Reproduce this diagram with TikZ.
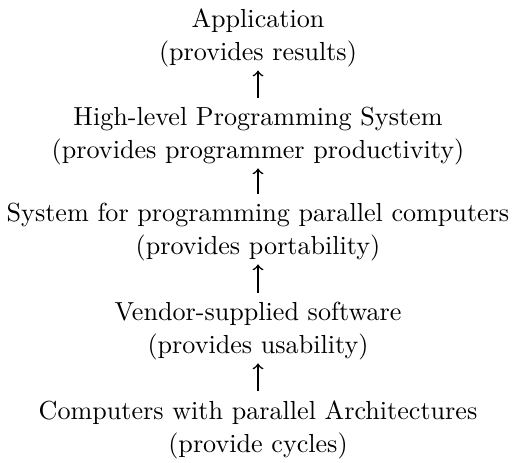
\documentclass[tikz,border=0pt]{standalone}
\begin{document}
\begin{tikzpicture}[x=0.383pt,y=-0.383pt,
    layer/.style={align=center,inner sep=0pt,font=\fontsize{10}{12.5}\selectfont},
    uparrow/.style={->,semithick,shorten <=3.5pt,shorten >=1.2pt}]
  \useasboundingbox (0,0) rectangle (512,463);

  % the layers, top to bottom
  \node[layer] (app)    at (258,38)  {Application\\(provides results)};
  \node[layer] (prog)   at (258,136) {High-level Programming System\\(provides programmer productivity)};
  \node[layer] (port)   at (258,232) {System for programming parallel computers\\(provides portability)};
  \node[layer] (vendor) at (258,331) {Vendor-supplied software\\(provides usability)};
  \node[layer] (arch)   at (258,430) {Computers with parallel Architectures\\(provide cycles)};

  % each layer builds on the one below
  \foreach \a/\b in {arch/vendor,vendor/port,port/prog,prog/app}
    \draw[uparrow] (\a) -- (\b);
\end{tikzpicture}
\end{document}
